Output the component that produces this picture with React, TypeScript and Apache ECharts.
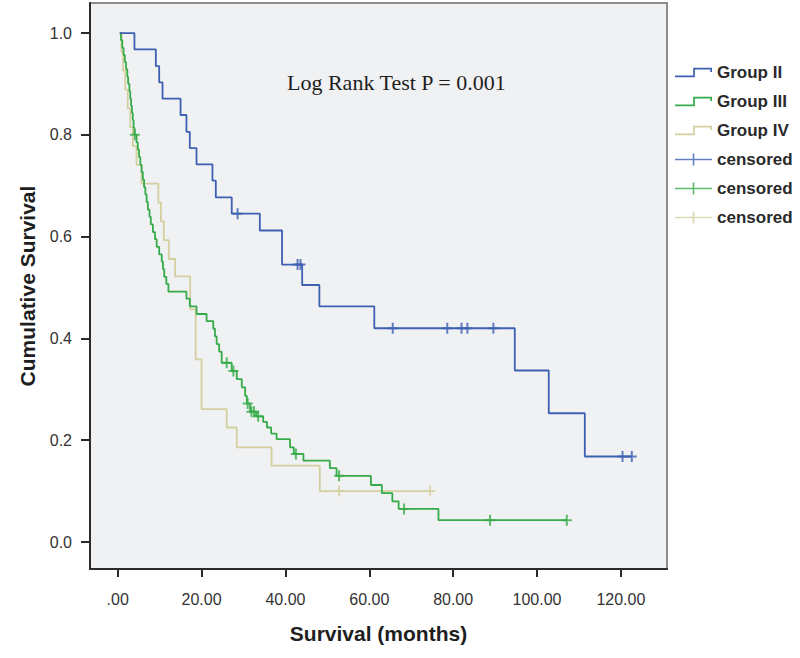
import React, { useEffect, useRef } from 'react';
import * as echarts from 'echarts';

// Axis ticks
const xTickValues = [0, 20, 40, 60, 80, 100, 120];
const yTickValues = [0, 0.2, 0.4, 0.6, 0.8, 1.0];

const titleText = 'Log Rank Test P = 0.001';
const seriesNames = ['Group II', 'Group III', 'Group IV'];
const censorNames = ['censored II', 'censored III', 'censored IV'];

// Group II (blue) step curve: time (months), cumulative survival after that time
const groupIITimes = [0.5, 4.0, 9.1, 9.9, 10.7, 15.0, 16.4, 17.2, 18.8, 22.6, 23.4, 27.2, 33.9, 39.2, 44.0, 48.1, 61.2, 94.7, 102.8, 111.4, 122.6];
const groupIISurvival = [1.0, 0.968, 0.935, 0.903, 0.871, 0.839, 0.806, 0.774, 0.742, 0.71, 0.677, 0.645, 0.612, 0.545, 0.505, 0.463, 0.42, 0.337, 0.253, 0.168, 0.168];
const groupIICensorTimes = [28.6, 42.9, 43.6, 65.6, 78.6, 82.0, 83.4, 89.6, 120.4, 122.6];
const groupIICensorSurvival = [0.645, 0.545, 0.545, 0.42, 0.42, 0.42, 0.42, 0.42, 0.168, 0.168];

// Group III (green)
const groupIIITimes = [0.5, 0.8, 1.1, 1.4, 1.7, 2.0, 2.3, 2.5, 2.8, 3.0, 3.2, 3.4, 3.6, 3.8, 4.0, 4.5, 4.8, 5.1, 5.4, 5.7, 6.0, 6.3, 6.6, 6.9, 7.2, 7.6, 7.9, 8.4, 8.9, 9.3, 9.9, 10.5, 10.8, 11.1, 11.6, 12.1, 16.4, 17.2, 18.8, 21.2, 22.8, 23.2, 23.6, 24.2, 24.8, 27.2, 28.4, 29.6, 30.4, 30.8, 31.6, 33.0, 34.7, 35.6, 36.6, 37.9, 41.1, 42.0, 44.3, 50.6, 52.2, 60.4, 63.0, 65.5, 67.0, 76.5, 107.1];
const groupIIISurvival = [1.0, 0.986, 0.971, 0.957, 0.943, 0.929, 0.914, 0.9, 0.886, 0.871, 0.857, 0.843, 0.829, 0.814, 0.8, 0.785, 0.771, 0.756, 0.741, 0.727, 0.712, 0.697, 0.683, 0.668, 0.653, 0.639, 0.624, 0.609, 0.595, 0.58, 0.565, 0.551, 0.536, 0.521, 0.507, 0.492, 0.478, 0.463, 0.448, 0.434, 0.419, 0.404, 0.389, 0.374, 0.352, 0.336, 0.32, 0.304, 0.287, 0.272, 0.256, 0.247, 0.236, 0.225, 0.213, 0.202, 0.186, 0.173, 0.16, 0.145, 0.13, 0.112, 0.096, 0.08, 0.065, 0.043, 0.043];
const groupIIICensorTimes = [4.1, 26.0, 27.6, 31.0, 31.9, 32.5, 33.5, 42.5, 52.8, 68.3, 88.8, 107.1];
const groupIIICensorSurvival = [0.8, 0.352, 0.336, 0.272, 0.256, 0.256, 0.247, 0.173, 0.13, 0.065, 0.043, 0.043];

// Group IV (tan)
const groupIVTimes = [0.5, 0.9, 1.3, 1.8, 2.4, 3.0, 3.6, 4.5, 5.7, 9.7, 10.3, 11.0, 12.2, 13.7, 17.3, 18.6, 20.0, 26.0, 28.4, 36.7, 48.2, 74.5];
const groupIVSurvival = [1.0, 0.963, 0.926, 0.889, 0.852, 0.815, 0.778, 0.741, 0.704, 0.667, 0.63, 0.593, 0.556, 0.522, 0.457, 0.359, 0.261, 0.225, 0.186, 0.15, 0.1, 0.1];
const groupIVCensorTimes = [52.8, 74.5];
const groupIVCensorSurvival = [0.1, 0.1];

const BLUE = '#3d60b2';
const GREEN = '#36ab49';
const TAN = '#d3cf9f';

const stepIcon = 'path://M0,7.4L17.2,7.4L17.2,0L35,0L35,4L33.4,4L33.4,1.6L18.8,1.6L18.8,9L0,9Z';
const crossIcon = 'path://M0,5.2L37,5.2L37,6.8L0,6.8Z M17.7,0L19.3,0L19.3,12L17.7,12Z';
const censorSymbol = 'path://M0,4.5L10,4.5L10,6.5L0,6.5Z M4,0L6,0L6,11L4,11Z';

const pair = (t: number[], s: number[]) => t.map((v, i) => [v, s[i]]);

export default function App() {
  const ref = useRef<HTMLDivElement>(null);
  useEffect(() => {
    if (!ref.current) return;
    const chart = echarts.init(ref.current, undefined, { renderer: 'svg' });
    const font = 'Liberation Sans, Arial, sans-serif';
    const lineSeries = (name: string, t: number[], s: number[], color: string, z: number) => ({
      type: 'line',
      name,
      step: 'end',
      data: pair(t, s),
      symbol: 'none',
      showSymbol: false,
      lineStyle: { color, width: 1.8 },
      itemStyle: { color },
      z,
      silent: true,
    });
    const censorSeries = (name: string, t: number[], s: number[], color: string, z: number) => ({
      type: 'scatter',
      name,
      data: pair(t, s),
      symbol: censorSymbol,
      symbolSize: [10, 11],
      itemStyle: { color },
      z,
      silent: true,
    });
    chart.setOption({
      animation: false,
      backgroundColor: '#ffffff',
      title: {
        text: titleText,
        left: 287,
        top: 71,
        padding: 0,
        textStyle: { fontFamily: 'Liberation Serif, Times New Roman, serif', fontSize: 22, fontWeight: 'normal', color: '#1e1e1e' },
      },
      grid: {
        left: 90,
        top: 3,
        width: 577,
        height: 566,
        show: true,
        backgroundColor: '#f0f1f3',
        borderColor: '#8c8c8c',
        borderWidth: 2,
      },
      legend: {
        orient: 'vertical',
        left: 675,
        top: 64,
        padding: 0,
        itemWidth: 37,
        itemHeight: 14,
        itemGap: 12,
        selectedMode: false,
        symbolKeepAspect: true,
        itemStyle: { borderWidth: 0 },
        data: [
          { name: seriesNames[0], icon: stepIcon },
          { name: seriesNames[1], icon: stepIcon },
          { name: seriesNames[2], icon: stepIcon },
          { name: censorNames[0], icon: crossIcon },
          { name: censorNames[1], icon: crossIcon },
          { name: censorNames[2], icon: crossIcon },
        ],
        formatter: (n: string) => (n.startsWith('censored') ? 'censored' : n),
        textStyle: { fontFamily: font, fontSize: 17, fontWeight: 'bold', color: '#2a2a2a', lineHeight: 16 },
      },
      xAxis: {
        type: 'value',
        min: -6.6,
        max: 131,
        axisLine: { show: true, onZero: false, lineStyle: { color: '#2b2b2b', width: 2 } },
        axisTick: { show: true, customValues: xTickValues, length: 8, lineStyle: { color: '#2b2b2b', width: 2 } },
        axisLabel: {
          customValues: xTickValues,
          formatter: (v: number) => (v === 0 ? '.00' : v.toFixed(2)),
          margin: 22,
          fontSize: 16,
          color: '#333',
          fontFamily: font,
        },
        splitLine: { show: false },
        name: 'Survival (months)',
        nameLocation: 'middle',
        nameGap: 54,
        nameTextStyle: { fontFamily: font, fontWeight: 'bold', fontSize: 21, color: '#1e1e1e' },
      },
      yAxis: {
        type: 'value',
        min: -0.053,
        max: 1.059,
        axisLine: { show: true, onZero: false, lineStyle: { color: '#2b2b2b', width: 2 } },
        axisTick: { show: true, customValues: yTickValues, length: 9, lineStyle: { color: '#2b2b2b', width: 2 } },
        axisLabel: {
          customValues: yTickValues,
          formatter: (v: number) => v.toFixed(1),
          margin: 18,
          fontSize: 16,
          color: '#333',
          fontFamily: font,
        },
        splitLine: { show: false },
        name: 'Cumulative Survival',
        nameLocation: 'middle',
        nameGap: 52,
        nameRotate: 90,
        nameTextStyle: { fontFamily: font, fontWeight: 'bold', fontSize: 21, color: '#1e1e1e' },
      },
      series: [
        lineSeries(seriesNames[2], groupIVTimes, groupIVSurvival, TAN, 2),
        lineSeries(seriesNames[1], groupIIITimes, groupIIISurvival, GREEN, 3),
        lineSeries(seriesNames[0], groupIITimes, groupIISurvival, BLUE, 4),
        censorSeries(censorNames[2], groupIVCensorTimes, groupIVCensorSurvival, TAN, 5),
        censorSeries(censorNames[1], groupIIICensorTimes, groupIIICensorSurvival, GREEN, 6),
        censorSeries(censorNames[0], groupIICensorTimes, groupIICensorSurvival, BLUE, 7),
      ],
    });
    return () => chart.dispose();
  }, []);
  return <div ref={ref} style={{ position: 'fixed', left: 0, top: 0, width: 800, height: 658, background: '#fff' }} />;
}
